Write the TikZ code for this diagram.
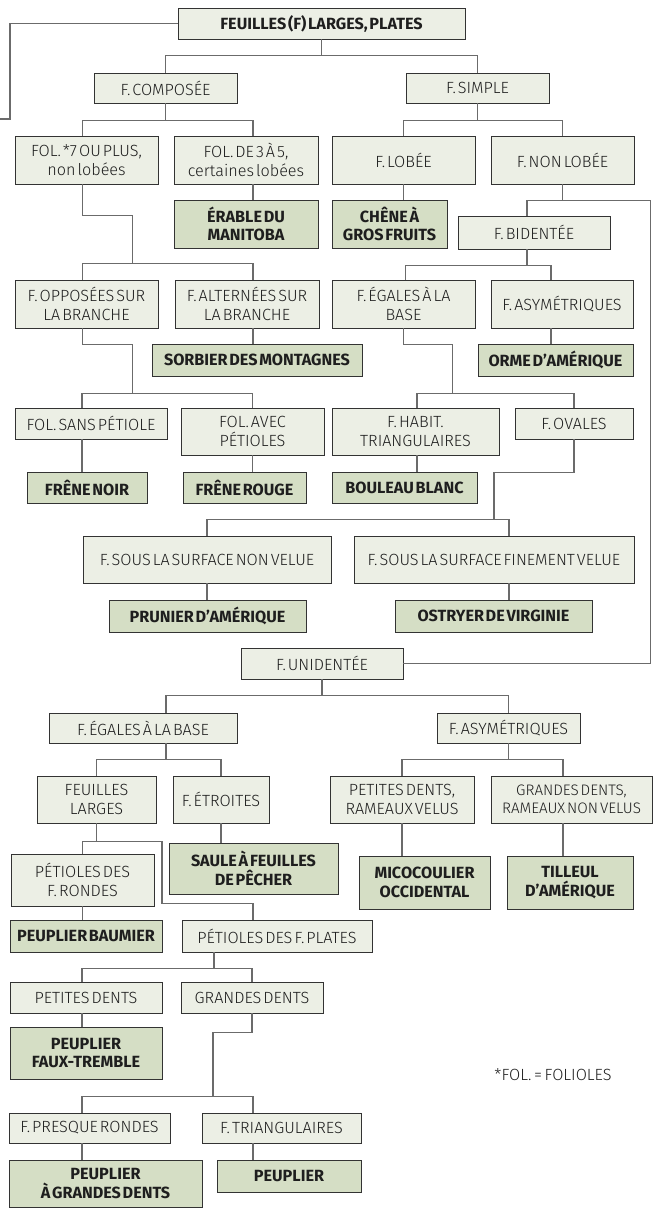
\documentclass[tikz,border=0pt]{standalone}
\usepackage{fontspec}
\setmainfont{Fira Sans Light}[WordSpace=0.45, BoldFont={Fira Sans Bold}]
\definecolor{lightfill}{HTML}{ECEFE5}
\definecolor{darkfill}{HTML}{D5DEC5}
\definecolor{bordercol}{HTML}{333333}
\definecolor{linecol}{HTML}{6B6B6B}
\definecolor{textcol}{HTML}{1E1E1E}
\newcommand{\fsz}{\fontsize{16.2}{18.5}\selectfont}
\newcommand{\fszs}{\fontsize{15.2}{18.5}\selectfont}
\tikzset{
  box/.style={draw=bordercol, line width=0.9pt, fill=lightfill, inner sep=0.5pt,
    align=center, font=\fsz, text=textcol},
  spec/.style={box, fill=darkfill, font=\fsz\bfseries},
  conn/.style={draw=linecol, line width=1.1pt},
}
\begin{document}
\begin{tikzpicture}[x=1pt,y=-1pt]
\useasboundingbox (0,0) rectangle (653,1208);
% ---------- nodes ----------
\node[spec, fill=lightfill, minimum width=287, minimum height=31] (top) at (321.5,23.5) {FEUILLES (F) LARGES, PLATES};
\node[box, minimum width=143, minimum height=30] (comp) at (165.5,88) {F. COMPOSÉE};
\node[box, minimum width=143, minimum height=30] (simple) at (477.5,88) {F. SIMPLE};
\node[box, minimum width=143, minimum height=48] (fol7) at (86.5,160) {FOL. *7 OU PLUS,\\ non lobées};
\node[box, minimum width=144, minimum height=48] (fol35) at (246,160) {FOL. DE 3 À 5,\\ certaines lobées};
\node[box, minimum width=143, minimum height=48] (lobee) at (403.5,160) {F. LOBÉE};
\node[box, minimum width=143, minimum height=48] (nonlobee) at (562.5,160) {F. NON LOBÉE};
\node[spec, minimum width=144, minimum height=48] (erable) at (246,224) {ÉRABLE DU\\ MANITOBA};
\node[spec, minimum width=115, minimum height=48] (chene) at (389.5,224) {CHÊNE À\\ GROS FRUITS};
\node[box, minimum width=152, minimum height=33] (bident) at (534,232.5) {F. BIDENTÉE};
\node[box, minimum width=143, minimum height=48] (opp) at (86.5,304) {F. OPPOSÉES SUR\\ LA BRANCHE};
\node[box, minimum width=144, minimum height=48] (alt) at (247,304) {F. ALTERNÉES SUR\\ LA BRANCHE};
\node[box, minimum width=143, minimum height=48] (egal1) at (403.5,304) {F. ÉGALES À LA\\ BASE};
\node[box, minimum width=142, minimum height=48] (asym1) at (562,304) {F. ASYMÉTRIQUES};
\node[spec, minimum width=210, minimum height=32] (sorbier) at (257,360) {SORBIER DES MONTAGNES};
\node[spec, minimum width=155, minimum height=32] (orme) at (555.5,360) {ORME D’AMÉRIQUE};
\node[box, minimum width=152, minimum height=31] (sans) at (91,423.5) {FOL. SANS PÉTIOLE};
\node[box, minimum width=143, minimum height=47] (avec) at (252.5,431.5) {FOL. AVEC\\ PÉTIOLES};
\node[box, minimum width=167, minimum height=47] (habit) at (415.5,431.5) {F. HABIT.\\ TRIANGULAIRES};
\node[box, minimum width=118, minimum height=31] (ovales) at (574,423.5) {F. OVALES};
\node[spec, minimum width=120, minimum height=31] (noir) at (87,487.5) {FRÊNE NOIR};
\node[spec, minimum width=123, minimum height=31] (rouge) at (244.5,487.5) {FRÊNE ROUGE};
\node[spec, minimum width=145, minimum height=31] (bouleau) at (404.5,487.5) {BOULEAU BLANC};
\node[box, minimum width=248, minimum height=47] (nonvelue) at (207,559.5) {F. SOUS LA SURFACE NON VELUE};
\node[box, minimum width=280, minimum height=47] (velue) at (494,559.5) {F. SOUS LA SURFACE FINEMENT VELUE};
\node[spec, minimum width=197, minimum height=32] (prunier) at (207.5,616) {PRUNIER D’AMÉRIQUE};
\node[spec, minimum width=197, minimum height=32] (ostryer) at (493.5,616) {OSTRYER DE VIRGINIE};
\node[box, minimum width=162, minimum height=31] (unident) at (322,663.5) {F. UNIDENTÉE};
\node[box, minimum width=188, minimum height=30] (egal2) at (143,728) {F. ÉGALES À LA BASE};
\node[box, minimum width=143, minimum height=30] (asym2) at (508.5,728) {F. ASYMÉTRIQUES};
\node[box, minimum width=119, minimum height=47] (larges) at (96.5,799.5) {FEUILLES\\ LARGES};
\node[box, minimum width=96, minimum height=47] (etroites) at (221,799.5) {F. ÉTROITES};
\node[box, minimum width=144, minimum height=47] (petram) at (402,799.5) {PETITES DENTS,\\ RAMEAUX VELUS};
\node[box, minimum width=161, minimum height=47, font=\fszs] (grandram) at (571.5,799.5) {GRANDES DENTS,\\ RAMEAUX NON VELUS};
\node[spec, minimum width=169, minimum height=51] (saule) at (253.5,868.5) {SAULE À FEUILLES\\ DE PÊCHER};
\node[spec, minimum width=131, minimum height=53] (micoc) at (424.5,882.5) {MICOCOULIER\\ OCCIDENTAL};
\node[spec, minimum width=126, minimum height=53] (tilleul) at (570,882.5) {TILLEUL\\ D’AMÉRIQUE};
\node[box, minimum width=143, minimum height=52] (rondes) at (82.5,880) {PÉTIOLES DES\\ F. RONDES};
\node[spec, minimum width=152, minimum height=32] (baumier) at (86,936) {PEUPLIER BAUMIER};
\node[box, minimum width=190, minimum height=32] (plates) at (277,936) {PÉTIOLES DES F. PLATES};
\node[box, minimum width=152, minimum height=31] (petdents) at (86,997.5) {PETITES DENTS};
\node[box, minimum width=142, minimum height=31] (grdents) at (252,997.5) {GRANDES DENTS};
\node[spec, minimum width=152, minimum height=52] (faux) at (86,1053) {PEUPLIER\\ FAUX-TREMBLE};
\node[box, minimum width=161, minimum height=30] (presque) at (89.5,1128) {F. PRESQUE RONDES};
\node[box, minimum width=159, minimum height=30] (triang) at (281.5,1128) {F. TRIANGULAIRES};
\node[spec, minimum width=193, minimum height=47] (pgrd) at (105.5,1183.5) {PEUPLIER\\ À GRANDES DENTS};
\node[spec, minimum width=144, minimum height=32] (peuplier) at (289,1176) {PEUPLIER};
\node[font=\fsz, text=textcol, inner sep=0pt] (note) at (553,1075) {*FOL.\,=\,FOLIOLES};
% ---------- connectors ----------
\coordinate (lend) at (0,119);
\draw[conn] (top.west) -| ([xshift=10]lend) -- (lend);
\draw[conn] (top.south) -- ++(0,16) coordinate (b1);
\draw[conn] (comp.north) |- (b1) -| (simple.north);
\draw[conn] (comp.south) -- ++(0,17) coordinate (b2);
\draw[conn] ([xshift=-4]fol7.north) |- (b2) -| ([xshift=7]fol35.north);
\draw[conn] (simple.south) -- ++(0,17) coordinate (b3);
\draw[conn] (lobee.north) |- (b3) -| (nonlobee.north);
\draw[conn] ([xshift=7]fol35.south) coordinate (q4) -- (q4 |- erable.north);
\draw[conn] (lobee.south) -- (lobee.south |- chene.north);
\draw[conn] (nonlobee.south) -- ++(0,16) coordinate (b6);
\draw[conn] (b6) -| ([xshift=-7]bident.north);
\draw[conn] (b6) -- ++(88,0) |- (unident.east);
\draw[conn] ([xshift=-4]fol7.south) -- ++(0,31) -- ++(50,0) -- ++(0,48) coordinate (b7);
\draw[conn] ([xshift=-4]opp.north) |- (b7) -| ([xshift=6]alt.north);
\draw[conn] ([xshift=-7]bident.south) -- ++(0,16) coordinate (b8);
\draw[conn] ([xshift=2]egal1.north) |- (b8) -| ([xshift=-11]asym1.north);
\draw[conn] ([xshift=6]alt.south) coordinate (q9) -- (q9 |- sorbier.north);
\draw[conn] ([xshift=-11]asym1.south) coordinate (q10) -- (q10 |- orme.north);
\draw[conn] ([xshift=-4]opp.south) -- ++(0,16) -- ++(50,0) -- ++(0,49) coordinate (b11);
\draw[conn] ([xshift=-9]sans.north) |- (b11) -| (avec.north);
\draw[conn] (egal1.south) -- ++(0,16) -- ++(49,0) -- ++(0,49) coordinate (b12);
\draw[conn] ([xshift=1.5]habit.north) |- (b12) -| (ovales.north);
\draw[conn] ([xshift=-9]sans.south) coordinate (q13) -- (q13 |- noir.north);
\draw[conn] (avec.south) -- (avec.south |- rouge.north);
\draw[conn] ([xshift=1.5]habit.south) coordinate (q15) -- (q15 |- bouleau.north);
\draw[conn] (ovales.south) -- ++(0,33) -- ++(-80,0) -- ++(0,47) coordinate (b16);
\draw[conn] (nonvelue.north) |- (b16) -| ([xshift=15]velue.north);
\draw[conn] (nonvelue.south) -- (nonvelue.south |- prunier.north);
\draw[conn] ([xshift=15]velue.south) coordinate (q18) -- (q18 |- ostryer.north);
\draw[conn] (unident.south) -- ++(0,16) coordinate (b19);
\draw[conn] ([xshift=23]egal2.north) |- (b19) -| (asym2.north);
\draw[conn] ([xshift=23]egal2.south) -- ++(0,16) coordinate (b20);
\draw[conn] (larges.north) |- (b20) -| (etroites.north);
\draw[conn] (asym2.south) -- ++(0,16) coordinate (b21);
\draw[conn] (petram.north) |- (b21) -| ([xshift=-8.5]grandram.north);
\draw[conn] (etroites.south) -- (etroites.south |- saule.north);
\draw[conn] (petram.south) -- (petram.south |- micoc.north);
\draw[conn] ([xshift=-8.5]grandram.south) coordinate (q23) -- (q23 |- tilleul.north);
\draw[conn] (larges.south) -- ++(0,18) coordinate (b24);
\draw[conn] (rondes.north) |- (b24) -- ++(65.5,0) -- ++(0,62) -| ([xshift=-24]plates.north);
\draw[conn] (rondes.south) -- (rondes.south |- baumier.north);
\draw[conn] ([xshift=-63]plates.south) -- ++(0,16) coordinate (b26);
\draw[conn] ([xshift=-4]petdents.north) |- (b26) -| (grdents.north);
\draw[conn] ([xshift=-4]petdents.south) coordinate (q27) -- (q27 |- faux.north);
\draw[conn] (grdents.south) -- ++(0,19) -- ++(-39,0) -- ++(0,64) coordinate (b28);
\draw[conn] ([xshift=-7.5]presque.north) |- (b28) -| ([xshift=-28.5]triang.north);
\draw[conn] ([xshift=-7.5]presque.south) coordinate (q29) -- (q29 |- pgrd.north);
\draw[conn] ([xshift=-28.5]triang.south) coordinate (q30) -- (q30 |- peuplier.north);
\end{tikzpicture}
\end{document}
